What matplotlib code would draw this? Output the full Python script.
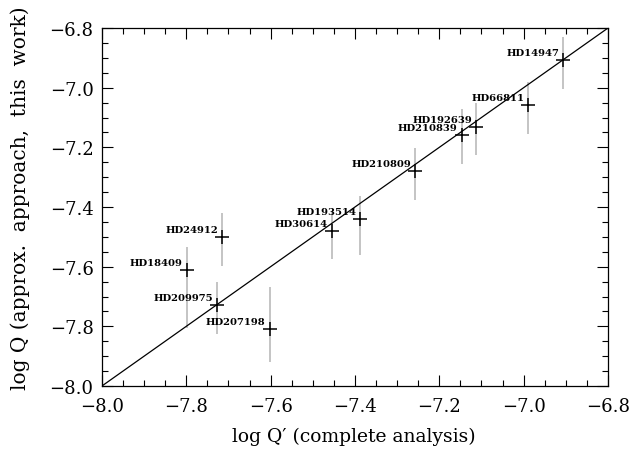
import matplotlib
matplotlib.use("Agg")
import matplotlib.pyplot as plt
from matplotlib.ticker import MultipleLocator
import numpy as np

# star names and values
stars = ["HD18409", "HD24912", "HD209975", "HD207198", "HD30614", "HD193514",
         "HD210809", "HD210839", "HD192639", "HD66811", "HD14947"]
log_q_full = [-7.798, -7.715, -7.727, -7.602, -7.454, -7.387,
              -7.257, -7.147, -7.113, -6.989, -6.906]
log_q_approx = [-7.610, -7.500, -7.728, -7.809, -7.479, -7.440,
                -7.280, -7.158, -7.131, -7.059, -6.907]
err_top = [-7.533, -7.421, -7.650, -7.669, -7.412, -7.362,
           -7.203, -7.070, -7.053, -6.982, -6.831]
err_bottom = [-7.807, -7.597, -7.826, -7.921, -7.574, -7.560,
              -7.376, -7.256, -7.226, -7.155, -7.004]

x = np.array(log_q_full)
y = np.array(log_q_approx)
lo = y - np.array(err_bottom)
hi = np.array(err_top) - y

plt.rcParams["font.family"] = "DejaVu Serif"

fig = plt.figure(figsize=(6.33, 4.52), dpi=100)
ax = fig.add_axes([0.161, 0.1438, 0.7995, 0.792])

# one-to-one line
ax.plot([-8.0, -6.8], [-8.0, -6.8], color="black", lw=0.9, zorder=2)

ax.errorbar(x, y, yerr=[lo, hi], fmt="none", ecolor="#b4b4b4", elinewidth=1.1,
            capsize=0, zorder=1)
ax.plot(x, y, "+", color="black", ms=10, mew=1.1, zorder=3)

for name, xi, yi in zip(stars, x, y):
    ax.annotate(name, (xi, yi), xytext=(-3, 3.5), textcoords="offset points",
                ha="right", va="baseline", fontsize=7.2, fontweight="bold",
                zorder=4)

ax.set_xlim(-8.0, -6.8)
ax.set_ylim(-8.0, -6.8)
ax.xaxis.set_major_locator(MultipleLocator(0.2))
ax.xaxis.set_minor_locator(MultipleLocator(0.05))
ax.yaxis.set_major_locator(MultipleLocator(0.2))
ax.yaxis.set_minor_locator(MultipleLocator(0.05))
ax.tick_params(which="both", direction="in", top=True, right=True, width=0.8,
               labelsize=13)
ax.tick_params(which="major", length=8)
ax.tick_params(which="minor", length=4)
ax.tick_params(axis="x", pad=8)
ax.tick_params(axis="y", pad=6)
for s in ax.spines.values():
    s.set_linewidth(0.9)

ax.set_xlabel("log Q\u2032 (complete analysis)", fontsize=13.5)
ax.set_ylabel("log Q (approx.  approach,  this  work)", fontsize=14.5)
ax.xaxis.set_label_coords(0.497, -0.14)
ax.yaxis.set_label_coords(-0.162, 0.528)
ax.xaxis.label.set_va("center")
ax.yaxis.label.set_va("center")

fig.savefig("out.png", dpi=100)
